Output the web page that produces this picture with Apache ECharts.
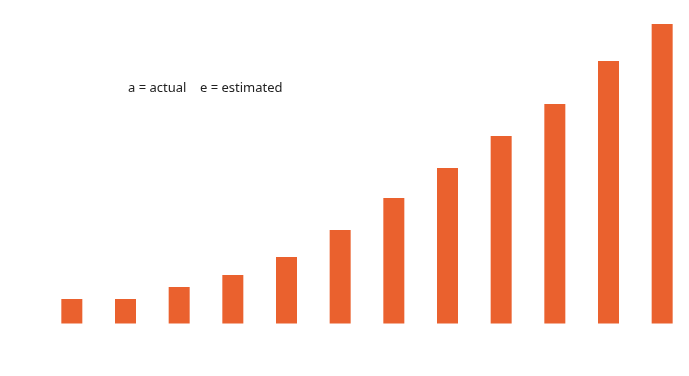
<!DOCTYPE html>
<html>
<head>
<meta charset="utf-8">
<script src="https://cdn.jsdelivr.net/npm/echarts@6/dist/echarts.min.js"></script>
<style>
  html, body { margin: 0; padding: 0; background: #fff; }
  #chart { width: 689px; height: 376px; }
</style>
</head>
<body>
<div id="chart"></div>
<script>
  // categories aren't labelled in the picture, so these are placeholders
  var categories = ['1', '2', '3', '4', '5', '6', '7', '8', '9', '10', '11', '12'];
  // bar heights
  var values = [24.5, 24.5, 36.5, 48.5, 66.5, 93.5, 125.5, 155.5, 187.5, 219.5, 262.5, 299.5];
  var noteText = 'a = actual    e = estimated';

  var chart = echarts.init(document.getElementById('chart'));
  chart.setOption({
    animation: false,
    title: {
      text: noteText,
      left: 123,
      top: 77,
      textStyle: {
        fontFamily: 'Noto Sans',
        fontSize: 13,
        fontWeight: 'normal',
        color: '#222'
      }
    },
    grid: {
      left: 45,
      right: 0,
      top: 23.5,
      bottom: 52.5
    },
    xAxis: {
      type: 'category',
      data: categories,
      axisLine: { show: false },
      axisTick: { show: false },
      axisLabel: { show: false }
    },
    yAxis: {
      type: 'value',
      min: 0,
      max: 300,
      show: false,
      splitLine: { show: false }
    },
    series: [{
      type: 'bar',
      data: values,
      barWidth: 21,
      itemStyle: { color: '#EA612E' }
    }]
  });
</script>
</body>
</html>
